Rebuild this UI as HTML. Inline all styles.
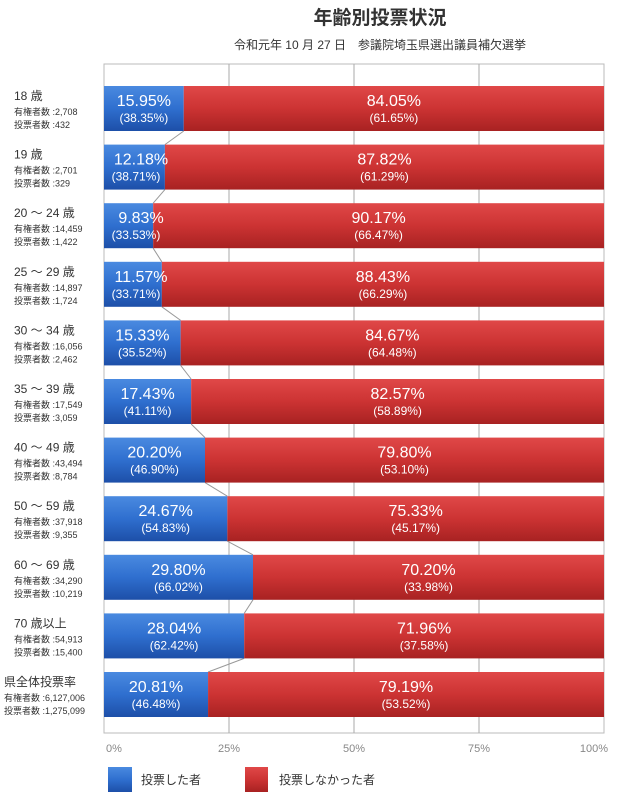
<!DOCTYPE html>
<html><head><meta charset="utf-8"><style>
body{margin:0;background:#fff;font-family:"Liberation Sans","Noto Sans CJK JP",sans-serif;}
svg{display:block}
</style></head><body>
<svg id="chart" width="637" height="800">
<defs>
<linearGradient id="gb" x1="0" y1="0" x2="0" y2="1"><stop offset="0" stop-color="#4a8ae0"/><stop offset="0.5" stop-color="#2f6fcf"/><stop offset="1" stop-color="#1d4fa8"/></linearGradient>
<linearGradient id="gr" x1="0" y1="0" x2="0" y2="1"><stop offset="0" stop-color="#e04848"/><stop offset="0.5" stop-color="#cc3333"/><stop offset="1" stop-color="#a82222"/></linearGradient>
</defs>
<text x="380" y="24" font-size="19" font-weight="bold" text-anchor="middle" fill="#333">年齢別投票状況</text>
<text x="380" y="49" font-size="12" text-anchor="middle" fill="#333">令和元年 10 月 27 日　参議院埼玉県選出議員補欠選挙</text>
<rect x="104" y="64" width="500" height="669" fill="#fff" stroke="#bbb"/>
<g id="grid"></g><g id="links"></g><g id="bars"></g><g id="labels"></g><g id="ticks"></g>
<rect x="108" y="767" width="24" height="25" fill="url(#gb)"/>
<text x="141" y="784" font-size="12" fill="#333">投票した者</text>
<rect x="245" y="767" width="23" height="25" fill="url(#gr)"/>
<text x="279" y="784" font-size="12" fill="#333">投票しなかった者</text>
</svg>
<script>
const categories=["18 歳","19 歳","20 ～ 24 歳","25 ～ 29 歳","30 ～ 34 歳","35 ～ 39 歳","40 ～ 49 歳","50 ～ 59 歳","60 ～ 69 歳","70 歳以上","県全体投票率"];
const eligible=["2,708","2,701","14,459","14,897","16,056","17,549","43,494","37,918","34,290","54,913","6,127,006"];
const voters=["432","329","1,422","1,724","2,462","3,059","8,784","9,355","10,219","15,400","1,275,099"];
const votedPct=[15.95,12.18,9.83,11.57,15.33,17.43,20.20,24.67,29.80,28.04,20.81];
const notVotedPct=[84.05,87.82,90.17,88.43,84.67,82.57,79.80,75.33,70.20,71.96,79.19];
const votedShare=[38.35,38.71,33.53,33.71,35.52,41.11,46.90,54.83,66.02,62.42,46.48];
const notVotedShare=[61.65,61.29,66.47,66.29,64.48,58.89,53.10,45.17,33.98,37.58,53.52];
const tickLabels=["0%","25%","50%","75%","100%"];
const tickValues=[0,25,50,75,100];
const NS="http://www.w3.org/2000/svg";
const X0=104,PW=500,Y0=86,STEP=58.6,BH=45;
const xs=v=>X0+v/100*PW;
const ys=i=>Y0+i*STEP;
function mk(tag,attrs,parent,txt){const e=document.createElementNS(NS,tag);for(const k in attrs)e.setAttribute(k,attrs[k]);if(txt!==undefined)e.textContent=txt;document.getElementById(parent).appendChild(e);return e;}
tickValues.forEach((v,i)=>{
  if(v>0&&v<100){const l=mk('line',{x1:xs(v),x2:xs(v),y1:64,y2:733,stroke:'#aaa'},'grid');
  
  }
  const t=mk('text',{x:xs(v),y:752,'font-size':11,fill:'#888','text-anchor':i==0?'start':(i==4?'end':'middle')},'ticks',tickLabels[i]);
  if(i==0)t.setAttribute('x',xs(v)+2);
  if(i==4)t.setAttribute('x',xs(v)+4);
  
  
});
categories.forEach((c,i)=>{
  const y=ys(i);
  if(i>0){const l=mk('line',{x1:xs(votedPct[i-1]),y1:ys(i-1)+BH,x2:xs(votedPct[i]),y2:y,stroke:'#999','stroke-width':1},'links');
  
  }
  const b=mk('rect',{x:X0,y:y,width:xs(votedPct[i])-X0,height:BH,fill:'url(#gb)'},'bars');
  
  
  const r=mk('rect',{x:xs(votedPct[i]),y:y,width:xs(100)-xs(votedPct[i]),height:BH,fill:'url(#gr)'},'bars');
  
  
  const bc=(X0+xs(votedPct[i]))/2, rc=(xs(votedPct[i])+xs(100))/2;
  const t1=mk('text',{x:Math.max(bc,X0+37),y:y+20,'font-size':16,fill:'#fff','text-anchor':'middle'},'labels',votedPct[i].toFixed(2)+'%');
  
  
  const t2=mk('text',{x:Math.max(bc,X0+32),y:y+36,'font-size':12,fill:'#fff','text-anchor':'middle'},'labels','('+votedShare[i].toFixed(2)+'%)');
  
  
  const t3=mk('text',{x:rc,y:y+20,'font-size':16,fill:'#fff','text-anchor':'middle'},'labels',notVotedPct[i].toFixed(2)+'%');
  
  
  const t4=mk('text',{x:rc,y:y+36,'font-size':12,fill:'#fff','text-anchor':'middle'},'labels','('+notVotedShare[i].toFixed(2)+'%)');
  
  
  const last=i==categories.length-1;
  const lx=last?4:14;
  const c1=mk('text',{x:lx,y:y+14,'font-size':12,fill:'#333'},'labels',c);
  
  
  const c2=mk('text',{x:lx,y:y+29,'font-size':9,fill:'#333'},'labels','有権者数 :'+eligible[i]);
  
  
  const c3=mk('text',{x:lx,y:y+42,'font-size':9,fill:'#333'},'labels','投票者数 :'+voters[i]);
  
  
});
</script>
</body></html>
